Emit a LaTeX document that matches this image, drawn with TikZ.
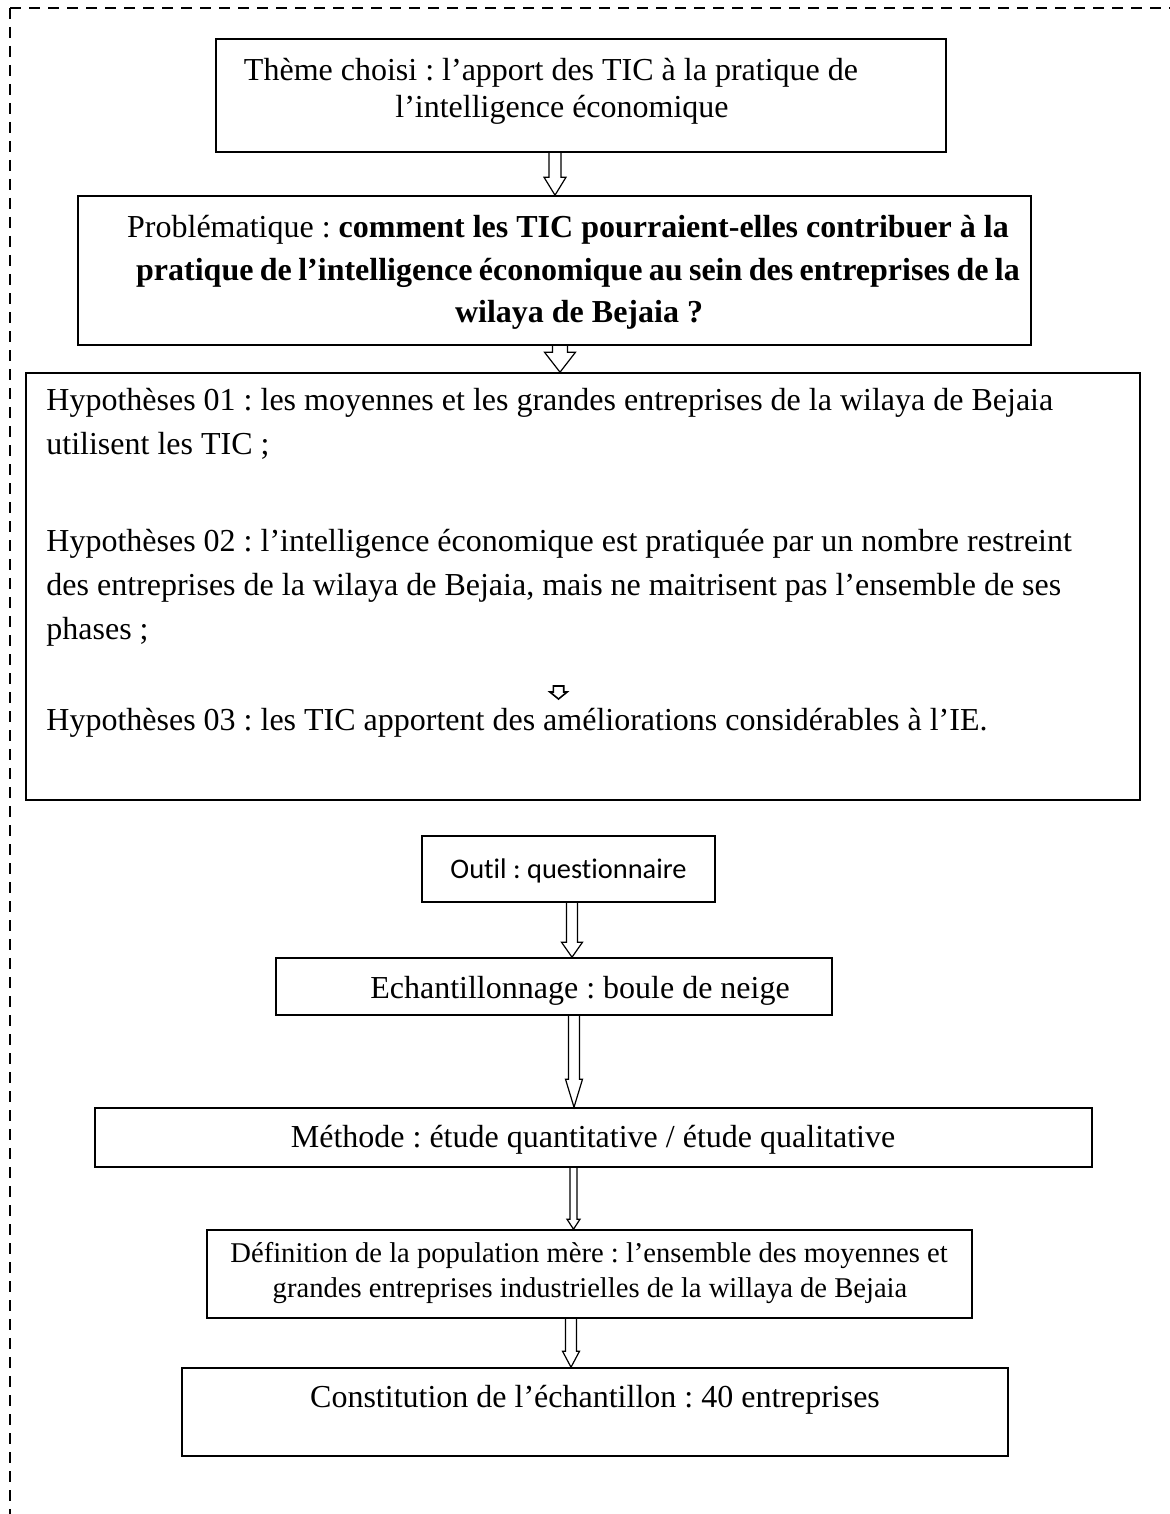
\documentclass[tikz,border=0pt]{standalone}
\usepackage{fontspec}
\setmainfont{Liberation Serif}
\newfontfamily\calib[Ligatures=NoCommon]{Carlito}
\usetikzlibrary{calc}
\frenchspacing
\tikzset{
  box/.style={draw, line width=0.8pt, inner sep=0pt},
  txt/.style={font=\fontsize{16pt}{18pt}\selectfont, inner sep=0pt, anchor=mid, yshift=-3pt},
  ltxt/.style={font=\fontsize{16pt}{18pt}\selectfont, inner sep=0pt, anchor=mid west, yshift=-3pt},
  stxt/.style={font=\fontsize{14.3pt}{17pt}\selectfont, inner sep=0pt, anchor=mid, yshift=-3pt},
  ctxt/.style={font=\calib\fontsize{14.2pt}{17pt}\selectfont, inner sep=0pt, anchor=mid, yshift=-2.5pt},
  arrowline/.style={draw, line width=0.6pt, line join=miter},
  frame/.style={draw, line width=1pt, dash pattern=on 5.5pt off 4pt}
}
\newcommand\blockarrow[6]{%
  \draw[arrowline] let \p1=(#1.south), \p2=(#2.north) in
  ({(#3-#4)*0.5pt},\y1) -- ({(#3-#4)*0.5pt},{\y2+#6*0.5pt}) --
  ({(#3-#5)*0.5pt},{\y2+#6*0.5pt}) -- ({#3*0.5pt},\y2) --
  ({(#3+#5)*0.5pt},{\y2+#6*0.5pt}) -- ({(#3+#4)*0.5pt},{\y2+#6*0.5pt}) --
  ({(#3+#4)*0.5pt},\y1);}
\begin{document}
\begin{tikzpicture}[x=0.5pt,y=-0.5pt]
\useasboundingbox (0,0) rectangle (1170,1514);
% frame
\coordinate (fc) at (10,8);
\coordinate (fr) at (1170,8);
\coordinate (fb) at (10,1514);
\draw[frame] (fc) -- (fr);
\draw[frame] (fc) -- (fb);
% boxes
\node[box, minimum width=365pt, minimum height=56.5pt] (thm) at (581,95.5) {};
\node[box, minimum width=476.5pt, minimum height=74.5pt] (prob) at (554.5,270.5) {};
\node[box, minimum width=557pt, minimum height=213.5pt] (hyp) at (583,586.5) {};
\node[box, minimum width=146.5pt, minimum height=33pt] (outil) at (568.5,869) {};
\node[box, minimum width=278pt, minimum height=28.5pt] (echant) at (554,986.5) {};
\node[box, minimum width=498.5pt, minimum height=29.5pt] (meth) at (593.5,1137.5) {};
\node[box, minimum width=382.5pt, minimum height=44pt] (def) at (589.5,1274) {};
\node[box, minimum width=413pt, minimum height=44pt] (const) at (595,1412) {};
% texts
\node[txt] (thm1) at (551,70) {Thème choisi : l’apport des TIC à la pratique de};
\node[txt] (thm2) at (562,107) {l’intelligence économique};
\node[txt] (prob1) at (568,227) {Problématique : \textbf{comment les TIC pourraient-elles contribuer à la}};
\node[txt] (prob2) at (578,270) {\spaceskip=3.2pt\textbf{pratique de l’intelligence économique au sein des entreprises de la}};
\node[txt] (prob3) at (579,312) {\textbf{wilaya de Bejaia ?}};
\node[ltxt] (h1) at (46,400) {Hypothèses 01 : les moyennes et les grandes entreprises de la wilaya de Bejaia};
\node[ltxt] (h2) at (46,444) {utilisent les TIC ;};
\node[ltxt] (h3) at (46,541) {Hypothèses 02 : l’intelligence économique est pratiquée par un nombre restreint};
\node[ltxt] (h4) at (46,585) {des entreprises de la wilaya de Bejaia, mais ne maitrisent pas l’ensemble de ses};
\node[ltxt] (h5) at (46,629) {phases ;};
\node[ltxt] (h6) at (46,720) {Hypothèses 03 : les TIC apportent des améliorations considérables à l’IE.};
\node[ctxt] (outilt) at (568.5,869) {Outil : questionnaire};
\node[txt] (echantt) at (580,988) {Echantillonnage : boule de neige};
\node[txt] (metht) at (593,1137) {Méthode : étude quantitative / étude qualitative};
\node[stxt] (def1) at (589,1252) {Définition de la population mère : l’ensemble des moyennes et};
\node[stxt] (def2) at (590,1287) {grandes entreprises industrielles de la willaya de Bejaia};
\node[txt] (constt) at (595,1397) {Constitution de l’échantillon : 40 entreprises};
% arrows
\blockarrow{thm}{prob}{555}{6}{11}{18}
\blockarrow{prob}{hyp}{560}{7.5}{15.5}{20}
\blockarrow{outil}{echant}{572}{5.5}{10.5}{15}
\blockarrow{echant}{meth}{574}{5.5}{8.5}{28}
\blockarrow{meth}{def}{573.5}{3.5}{6.5}{10}
\blockarrow{def}{const}{571}{5.5}{8.5}{16}
% small arrow inside hypotheses box
\coordinate (sa) at (558.5,686);
\coordinate (sb) at (558.5,699);
\draw[arrowline, line width=0.8pt] let \p1=(sa), \p2=(sb) in
  ({\x1-2.6pt},\y1) -- ({\x1-2.6pt},{\y2+3.5pt}) -- ({\x1-4.3pt},{\y2+3.5pt}) -- (\x2,\y2)
  -- ({\x1+4.3pt},{\y2+3.5pt}) -- ({\x1+2.6pt},{\y2+3.5pt}) -- ({\x1+2.6pt},\y1) -- cycle;
\end{tikzpicture}
\end{document}
